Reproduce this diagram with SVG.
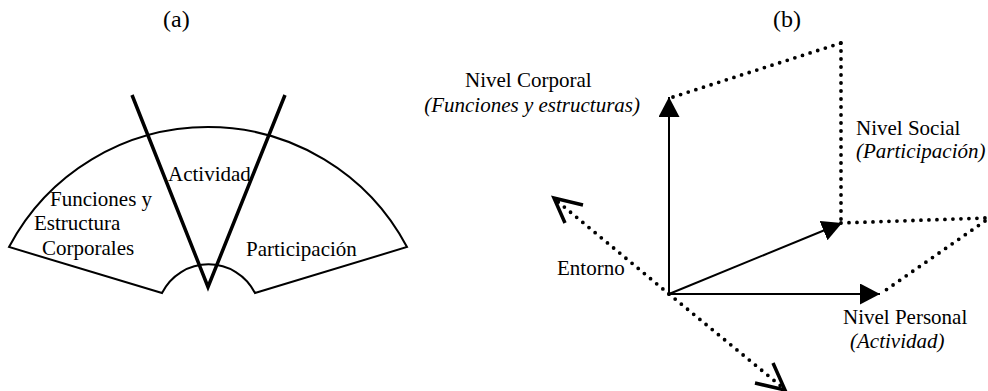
<svg xmlns="http://www.w3.org/2000/svg" width="988" height="391" viewBox="0 0 988 391">
<style>
text{font-family:"Liberation Serif","Times New Roman",serif;font-size:21px;fill:#000}
.it{font-style:italic}
.thin{fill:none;stroke:#000;stroke-width:2}
.thick{fill:none;stroke:#000;stroke-width:3.5;stroke-linejoin:miter}
.dot{fill:none;stroke:#000;stroke-width:3.8;stroke-linecap:round;stroke-dasharray:0 8}
.open{fill:none;stroke:#000;stroke-width:3.5;stroke-linecap:butt;stroke-linejoin:miter}
</style>
<defs>
<marker id="ah" markerUnits="userSpaceOnUse" markerWidth="21" markerHeight="22" refX="20" refY="10.5" orient="auto" viewBox="0 0 21 22">
<path d="M0,0 L20,10.5 L0,21 z" fill="#000"/>
</marker>
</defs>
<rect width="988" height="391" fill="#fff"/>
<text x="163" y="27" style="font-size:24px">(a)</text>
<text x="773" y="27" style="font-size:24px">(b)</text>
<g id="fan">
<path class="thin" d="M9,247 A225,225 0 0 1 407,247 L255,293 A52,52 0 0 0 162,293 Z"/>
</g>
<g id="activity-wedge">
<path class="thick" d="M132,95 L208,287 L285,95"/>
</g>
<g id="label-funciones">
<text x="50" y="206">Funciones y</text>
<text x="34" y="230">Estructura</text>
<text x="42" y="255">Corporales</text>
</g>
<g id="label-actividad"><text x="168" y="181">Actividad</text></g>
<g id="label-participacion"><text x="246" y="256">Participación</text></g>
<g id="connectors">
<line class="thin" x1="669" y1="294" x2="669" y2="97" marker-end="url(#ah)"/>
<line class="thin" x1="669" y1="294" x2="880" y2="294" marker-end="url(#ah)"/>
<line class="thin" x1="669" y1="294" x2="842" y2="223" marker-end="url(#ah)"/>
<line class="dot" x1="673" y1="97" x2="841" y2="43"/>
<line class="dot" x1="841" y1="43" x2="841" y2="223"/>
<line class="dot" x1="841" y1="223" x2="985" y2="218"/>
<line class="dot" x1="985" y1="221" x2="883" y2="292"/>
<line class="dot" x1="669" y1="294" x2="557" y2="201"/>
<line class="dot" x1="669" y1="294" x2="782" y2="387"/>
<path class="open" d="M583,205 L554,198 L565,223"/>
<path class="open" d="M755,383 L785,390 L773,363"/>
</g>
<g id="node-corporal">
<text x="465" y="87">Nivel Corporal</text>
<text x="640" y="112" class="it" text-anchor="end">(Funciones y estructuras)</text>
</g>
<g id="node-social">
<text x="856" y="135">Nivel Social</text>
<text x="856" y="158" class="it">(Participación)</text>
</g>
<g id="node-personal">
<text x="843" y="324">Nivel Personal</text>
<text x="850" y="348" class="it">(Actividad)</text>
</g>
<g id="node-entorno"><text x="557" y="275">Entorno</text></g>
</svg>
